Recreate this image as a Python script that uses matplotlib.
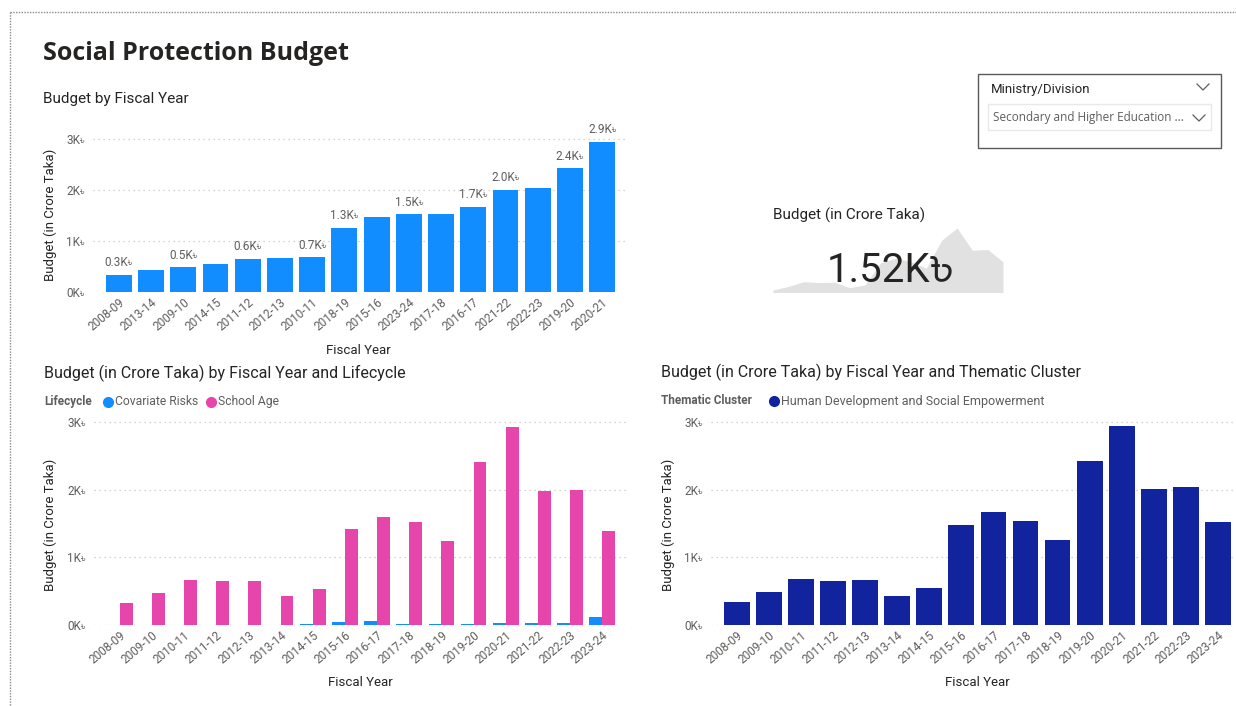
import numpy as np
import matplotlib
matplotlib.use('Agg')
import matplotlib.pyplot as plt
from matplotlib.lines import Line2D
from matplotlib.patches import Rectangle

# fiscal years in chronological order
years = ['2008-09', '2009-10', '2010-11', '2011-12', '2012-13', '2013-14',
         '2014-15', '2015-16', '2016-17', '2017-18', '2018-19', '2019-20',
         '2020-21', '2021-22', '2022-23', '2023-24']
# total budget (crore taka), also the Human Development cluster
budget = [336, 484, 682, 648, 662, 435, 544, 1473, 1671, 1532, 1256,
          2427, 2945, 2007, 2042, 1523]
# lifecycle split
covariate_risks = [0, 0, 0, 0, 0, 0, 15, 40, 64, 15, 15, 15, 25, 25, 30, 124]
school_age = [331, 479, 672, 643, 652, 425, 534, 1419, 1602, 1522, 1246,
              2402, 2921, 1982, 2002, 1394]
# bars of the top chart that carry a data label
labelled_years = ['2008-09', '2009-10', '2011-12', '2010-11', '2018-19',
                  '2023-24', '2016-17', '2021-22', '2019-20', '2020-21']
kpi_value = 1523
slicer_value = 'Secondary and Higher Education ...'

BLUE = '#118DFF'
PINK = '#E645AB'
NAVY = '#12239E'
DARK = '#252423'
GREY = '#605E5C'
GRID = '#C8C6C4'
FONT = ['Roboto', 'FreeSans']
TAKA = '\u09f3'

W, H = 1236, 706
fig = plt.figure(figsize=(W / 100, H / 100), dpi=100)


def box(left, top, right, bottom):
    return [left / W, 1 - bottom / H, (right - left) / W, (bottom - top) / H]


def ftext(x, y, s, **kw):
    kw.setdefault('family', FONT)
    kw.setdefault('color', DARK)
    kw.setdefault('va', 'center')
    return fig.text(x / W, 1 - y / H, s, **kw)


def kfmt(v, _=None):
    return '%dK%s' % (round(v / 1000), TAKA)


def style_axes(ax, ymax):
    ax.set_ylim(0, ymax)
    ax.set_yticks([0, 1000, 2000, 3000])
    ax.yaxis.set_major_formatter(plt.FuncFormatter(kfmt))
    for s in ax.spines.values():
        s.set_visible(False)
    ax.yaxis.grid(True, linestyle=(0, (1, 3)), color=GRID, lw=0.9)
    ax.set_axisbelow(True)
    ax.tick_params(length=0, labelsize=8.5, labelcolor=GREY)
    ax.tick_params(axis='y', pad=6)
    ax.tick_params(axis='x', pad=3)
    for lab in ax.get_yticklabels():
        lab.set_family(FONT)


def set_xticks(ax, labels):
    ax.set_xticks(np.arange(len(labels)))
    ax.set_xticklabels(labels, rotation=40, ha='right', rotation_mode='anchor',
                       family=FONT, fontsize=8.5, color=GREY)


# dotted page border
fig.add_artist(Line2D([10 / W, 1], [1 - 12 / H] * 2, color='#8A8A8A',
                      lw=1, ls=(0, (1, 1))))
fig.add_artist(Line2D([10 / W] * 2, [1 - 12 / H, 0], color='#8A8A8A',
                      lw=1, ls=(0, (1, 1))))

ftext(43, 53, 'Social Protection Budget', family=['Open Sans', 'DejaVu Sans'],
      fontsize=18, fontweight='bold')

# ---- top left: budget by fiscal year, sorted ascending
order = np.argsort(budget)
sorted_years = [years[i] for i in order]
sorted_budget = [budget[i] for i in order]

ax1 = fig.add_axes(box(93, 120, 628, 292))
ax1.bar(np.arange(len(sorted_years)), sorted_budget, width=0.8, color=BLUE)
style_axes(ax1, 3000 * (292 - 120) / 153)
ax1.set_xlim(-0.8, len(years) - 1 + 0.8)
set_xticks(ax1, sorted_years)
for i, (y, v) in enumerate(zip(sorted_years, sorted_budget)):
    if y in labelled_years:
        ax1.annotate('%.1fK%s' % (v / 1000, TAKA), (i, v), xytext=(0, 4),
                     textcoords='offset points', ha='center', va='bottom',
                     family=FONT, fontsize=8.5, color=GREY)
ftext(43, 99, 'Budget by Fiscal Year', fontsize=11)
ftext(50, 215, 'Budget (in Crore Taka)', rotation=90, ha='center', fontsize=9.5)
ftext(358, 350, 'Fiscal Year', ha='center', fontsize=9.5)

# ---- bottom left: lifecycle
x = np.arange(len(years))
ax2 = fig.add_axes(box(94, 415, 628, 625))
ax2.bar(x - 0.2, covariate_risks, width=0.4, color=BLUE)
ax2.bar(x + 0.2, school_age, width=0.4, color=PINK)
style_axes(ax2, 3000 * (625 - 415) / 203)
ax2.set_xlim(-0.8, len(years) - 1 + 0.8)
set_xticks(ax2, years)
ftext(44, 373, 'Budget (in Crore Taka) by Fiscal Year and Lifecycle',
      fontsize=11.5)
ftext(44, 402, 'Lifecycle', fontsize=8.5, fontweight='bold', color=GREY)
fig.add_artist(Line2D([108 / W], [1 - 402 / H], marker='o', ms=7,
                      color=BLUE, lw=0))
ftext(115, 402, 'Covariate Risks', fontsize=8.7, color=GREY)
fig.add_artist(Line2D([211 / W], [1 - 402 / H], marker='o', ms=7,
                      color=PINK, lw=0))
ftext(218, 402, 'School Age', fontsize=8.7, color=GREY)
ftext(50, 525, 'Budget (in Crore Taka)', rotation=90, ha='center', fontsize=9.5)
ftext(360, 683, 'Fiscal Year', ha='center', fontsize=9.5)

# ---- bottom right: thematic cluster
ax3 = fig.add_axes(box(711, 415, 1236, 625))
ax3.bar(x, budget, width=0.8, color=NAVY)
style_axes(ax3, 3000 * (625 - 415) / 203)
ax3.set_xlim(-0.8, len(years) - 1 + 0.56)
set_xticks(ax3, years)
ftext(661, 372, 'Budget (in Crore Taka) by Fiscal Year and Thematic Cluster',
      fontsize=11.5)
ftext(661, 401, 'Thematic Cluster', fontsize=8.5, fontweight='bold', color=GREY)
fig.add_artist(Line2D([774 / W], [1 - 401 / H], marker='o', ms=7,
                      color=NAVY, lw=0))
ftext(781, 401, 'Human Development and Social Empowerment', fontsize=9,
      color=GREY)
ftext(668, 525, 'Budget (in Crore Taka)', rotation=90, ha='center', fontsize=9.5)
ftext(977, 682, 'Fiscal Year', ha='center', fontsize=9.5)

# ---- KPI card with sparkline
axk = fig.add_axes(box(773, 228, 1003, 292))
axk.fill_between(x, budget, 0, color='#E1E1E1', lw=0)
axk.set_xlim(0, len(years) - 1)
axk.set_ylim(250, max(budget))
axk.axis('off')
ftext(773, 215, 'Budget (in Crore Taka)', fontsize=11)
ftext(890, 270, '%.2fK%s' % (kpi_value / 1000, TAKA), ha='center',
      fontsize=29, family=['Roboto', 'Hind Siliguri', 'FreeSans'])

# ---- slicer
fig.add_artist(Rectangle((978 / W, 1 - 148 / H), 243 / W, 74 / H,
                         fill=False, ec='#5A5A5A', lw=1))
fig.add_artist(Rectangle((988 / W, 1 - 130 / H), 223 / W, 26 / H,
                         fill=False, ec='#E8E8E8', lw=1))
ftext(991, 89, 'Ministry/Division', fontsize=9.5)
ftext(993, 118, slicer_value, fontsize=8.5, color=GREY,
      family=['Open Sans', 'DejaVu Sans'])
for cx, cy in [(1203, 87), (1199, 118)]:
    fig.add_artist(Line2D([(cx - 6) / W, cx / W, (cx + 6) / W],
                          [1 - (cy - 3) / H, 1 - (cy + 3) / H, 1 - (cy - 3) / H],
                          color='#605E5C', lw=0.9))

fig.savefig('out.png', dpi=100)
